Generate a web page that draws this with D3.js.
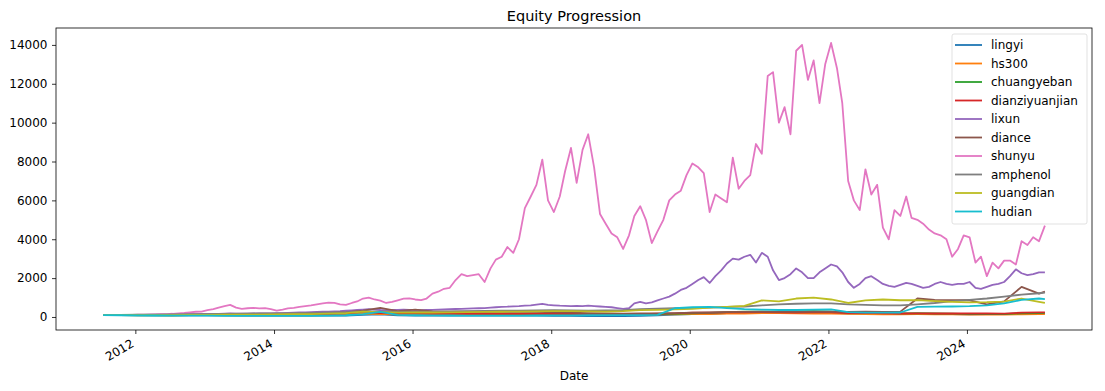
<!DOCTYPE html>
<html>
<head>
<meta charset="utf-8">
<script src="https://cdn.jsdelivr.net/npm/d3@7"></script>
<style>
  body { margin: 0; background: #fff; }
  svg { display: block; font-family: "DejaVu Sans", sans-serif; }
  .axis { font-family: "DejaVu Sans", sans-serif; }
  .axis path, .axis line { stroke: #000; stroke-width: 0.8px; }
  .axis text { font-size: 12px; fill: #000; }
</style>
</head>
<body>
<div id="area"></div>
<script>
var width = 1105,
    height = 391;

var margin = {left: 56, top: 28, right: 13, bottom: 61};

var series_names = ['lingyi', 'hs300', 'chuangyeban', 'dianziyuanjian', 'lixun',
                    'diance', 'shunyu', 'amphenol', 'guangdian', 'hudian'];

var series_colors = ['#1f77b4', '#ff7f0e', '#2ca02c', '#d62728', '#9467bd',
                     '#8c564b', '#e377c2', '#7f7f7f', '#bcbd22', '#17becf'];

// monthly samples, Jul 2011 .. Feb 2025
var shunyu = [
  100, 100, 105, 105, 110, 110,
  115, 120, 125, 130, 140, 150, 165, 190, 210, 240, 270, 280,
  350, 400, 480, 560, 620, 480, 420, 450, 470, 440, 450, 400,
  330, 380, 440, 470, 520, 560, 600, 650, 700, 740, 730, 650,
  620, 720, 800, 950, 1000, 900, 840, 720, 780, 860, 940, 960,
  900, 870, 950, 1200, 1300, 1450, 1500, 1900, 2200, 2100, 2150, 2200,
  1800, 2500, 2950, 3100, 3600, 3300, 4000, 5600, 6200, 6800, 8100, 6000,
  5400, 6200, 7500, 8700, 6900, 8600, 9400, 7700, 5300, 4800, 4300, 4100,
  3500, 4200, 5200, 5700, 5000, 3800, 4400, 5000, 6000, 6300, 6500, 7300,
  7900, 7700, 7400, 5400, 6300, 6100, 5900, 8200, 6600, 7000, 7300, 8900,
  8400, 12400, 12600, 10000, 10800, 9400, 13700, 14000, 12200, 13200, 11000, 13000,
  14100, 12800, 11000, 7000, 6000, 5500, 7600, 6300, 6800, 4600, 4000, 5500,
  5200, 6200, 5100, 5000, 4800, 4500, 4300, 4200, 4000, 3100, 3500, 4200,
  4100, 2800, 3100, 2100, 2800, 2500, 2900, 2900, 2700, 3900, 3700, 4100,
  3900, 4700
];

var lixun = [
  100, 100, 95, 100, 100, 105,
  110, 110, 115, 115, 120, 120, 125, 125, 130, 130, 135, 140,
  145, 150, 160, 170, 180, 175, 170, 175, 180, 185, 190, 190,
  195, 200, 210, 220, 230, 240, 250, 260, 270, 280, 290, 300,
  320, 340, 360, 380, 400, 380, 360, 350, 360, 370, 380, 370,
  360, 350, 360, 370, 380, 390, 400, 410, 420, 430, 440, 450,
  460, 480, 500, 520, 530, 550, 560, 580, 600, 640, 670, 620,
  600, 580, 570, 560, 570, 560, 580, 560, 540, 520, 500, 460,
  420, 450, 700, 780, 700, 750, 850, 950, 1050, 1200, 1390, 1500,
  1700, 1900, 2050, 1750, 2100, 2400, 2750, 3000, 2950, 3100, 3200, 2800,
  3300, 3100, 2400, 1900, 2000, 2200, 2500, 2300, 2000, 2000, 2300, 2500,
  2700, 2600, 2300, 1800, 1500, 1700, 2000, 2100, 1900, 1700, 1600, 1550,
  1650, 1750, 1700, 1600, 1500, 1550, 1700, 1800, 1700, 1650, 1700, 1700,
  1800, 1500, 1450, 1550, 1650, 1700, 1800, 2100, 2450, 2250, 2150, 2200,
  2300, 2300
];

// quarterly samples, Jul 2011 .. Jan 2025, plus Feb 2025
var lingyi = [
  100, 95, 90, 85, 85, 80, 80, 80,
  75, 75, 70, 70, 70, 70, 75, 110,
  130, 80, 70, 70, 75, 75, 70, 70,
  65, 65, 60, 55, 50, 45, 45, 60,
  80, 120, 150, 160, 200, 210, 230, 220,
  200, 210, 230, 180, 170, 160, 150, 160,
  150, 150, 140, 150, 160, 180, 200, 210
];

var hs300 = [
  100, 95, 95, 95, 90, 95, 95, 90,
  85, 85, 85, 85, 90, 110, 140, 180,
  150, 130, 115, 115, 120, 125, 130, 135,
  145, 150, 155, 145, 135, 120, 120, 140,
  135, 140, 145, 145, 170, 180, 200, 195,
  185, 180, 175, 160, 150, 140, 140, 145,
  135, 130, 125, 125, 120, 140, 145, 145
];

var chuangyeban = [
  100, 95, 90, 85, 90, 95, 110, 130,
  140, 150, 160, 170, 170, 190, 210, 290,
  230, 220, 210, 200, 190, 185, 175, 170,
  170, 165, 160, 150, 135, 120, 125, 140,
  145, 160, 190, 210, 250, 270, 280, 260,
  290, 300, 270, 220, 230, 210, 190, 200,
  180, 170, 150, 160, 150, 190, 200, 210
];

var dianziyuanjian = [
  100, 95, 95, 95, 95, 100, 110, 120,
  125, 130, 135, 140, 145, 160, 190, 260,
  200, 180, 170, 160, 160, 165, 165, 160,
  160, 165, 160, 155, 140, 120, 125, 150,
  170, 190, 220, 220, 240, 240, 250, 240,
  230, 240, 240, 200, 210, 190, 180, 185,
  180, 180, 180, 180, 175, 220, 240, 240
];

var diance = [
  100, 100, 100, 105, 110, 115, 120, 130,
  140, 145, 150, 160, 170, 200, 250, 330,
  470, 300, 380, 290, 280, 280, 270, 270,
  260, 260, 240, 220, 200, 180, 170, 180,
  190, 200, 220, 230, 250, 260, 270, 260,
  260, 270, 280, 260, 270, 260, 275, 950,
  880, 870, 860, 650, 800, 1550, 1200, 1300
];

var amphenol = [
  100, 110, 120, 125, 135, 140, 150, 160,
  170, 180, 190, 200, 210, 230, 250, 290,
  280, 270, 270, 280, 290, 300, 310, 320,
  330, 340, 350, 340, 330, 340, 350, 400,
  430, 450, 470, 480, 520, 540, 600, 650,
  680, 700, 700, 650, 620, 600, 600, 650,
  720, 820, 880, 950, 1050, 1150, 1220, 1250
];

var guangdian = [
  100, 95, 95, 100, 100, 105, 110, 115,
  120, 125, 130, 140, 150, 170, 200, 280,
  250, 220, 230, 230, 240, 250, 260, 270,
  280, 290, 300, 300, 290, 280, 300, 350,
  370, 390, 420, 480, 520, 570, 850, 800,
  950, 1000, 900, 720, 850, 900, 860, 870,
  820, 780, 750, 760, 790, 950, 780, 720
];

var hudian = [
  100, 90, 80, 75, 70, 65, 65, 60,
  60, 55, 55, 55, 60, 70, 90, 150,
  260, 110, 90, 80, 75, 70, 70, 70,
  70, 75, 80, 80, 90, 95, 100, 100,
  110, 450, 500, 520, 460, 400, 380, 360,
  360, 380, 390, 250, 220, 220, 230, 520,
  530, 540, 560, 600, 700, 880, 950, 920
];

var y_ticks = [0, 2000, 4000, 6000, 8000, 10000, 12000, 14000];
var x_tick_years = [2012, 2014, 2016, 2018, 2020, 2022, 2024];
var y_limits = [-670, 14870];

// sample dates
var month_dates = d3.range(shunyu.length).map(function(i) { return new Date(2011, 6 + i, 15); });
var quarter_dates = d3.range(lingyi.length - 1).map(function(i) { return new Date(2011, 6 + 3 * i, 15); });
quarter_dates.push(new Date(2025, 1, 15));

var series_values = [lingyi, hs300, chuangyeban, dianziyuanjian, lixun,
                     diance, shunyu, amphenol, guangdian, hudian];

var series = series_names.map(function(name, i) {
  var vals = series_values[i];
  var dates = vals.length == month_dates.length ? month_dates : quarter_dates;
  return {
    name: name,
    color: series_colors[i],
    points: vals.map(function(v, j) { return {date: dates[j], value: v}; })
  };
});

var svg = d3.select('#area').append('svg')
    .attr('width', width)
    .attr('height', height);

var plot_w = width - margin.left - margin.right,
    plot_h = height - margin.top - margin.bottom;

// x range padded by 5% like matplotlib
var t0 = month_dates[0].getTime(),
    t1 = month_dates[month_dates.length - 1].getTime(),
    pad = (t1 - t0) * 0.05;

var x = d3.scaleTime()
    .domain([new Date(t0 - pad), new Date(t1 + pad)])
    .range([margin.left, margin.left + plot_w]);

var y = d3.scaleLinear()
    .domain(y_limits)
    .range([margin.top + plot_h, margin.top]);

var line = d3.line()
    .x(function(d) { return x(d.date); })
    .y(function(d) { return y(d.value); });

svg.append('g').selectAll('path')
  .data(series)
  .enter().append('path')
    .attr('d', function(d) { return line(d.points); })
    .attr('fill', 'none')
    .attr('stroke', function(d) { return d.color; })
    .attr('stroke-width', 1.8)
    .attr('stroke-linejoin', 'round');

// axes
var y_axis = svg.append('g')
    .attr('class', 'axis')
    .attr('transform', 'translate(' + margin.left + ',0)')
    .call(d3.axisLeft(y).tickValues(y_ticks).tickSize(4).tickPadding(4.5).tickFormat(d3.format('d')));
y_axis.select('.domain').remove();

var x_axis = svg.append('g')
    .attr('class', 'axis')
    .attr('transform', 'translate(0,' + (margin.top + plot_h) + ')')
    .call(d3.axisBottom(x)
      .tickValues(x_tick_years.map(function(yr) { return new Date(yr, 0, 1); }))
      .tickSize(4)
      .tickFormat(d3.timeFormat('%Y')));
x_axis.select('.domain').remove();
x_axis.selectAll('text')
    .attr('text-anchor', 'end')
    .attr('y', 0)
    .attr('dy', 0)
    .attr('transform', 'translate(-1,16) rotate(-30)');

// frame
svg.append('rect')
    .attr('x', margin.left)
    .attr('y', margin.top)
    .attr('width', plot_w)
    .attr('height', plot_h)
    .attr('fill', 'none')
    .attr('stroke', '#000')
    .attr('stroke-width', 0.8);

svg.append('text')
    .attr('x', margin.left + plot_w / 2)
    .attr('y', 21)
    .attr('text-anchor', 'middle')
    .attr('font-size', '14.5px')
    .attr('fill', '#000')
    .text('Equity Progression');

svg.append('text')
    .attr('x', margin.left + plot_w / 2)
    .attr('y', 380)
    .attr('text-anchor', 'middle')
    .attr('font-size', '12px')
    .attr('fill', '#000')
    .text('Date');

// legend
var legend = svg.append('g').attr('transform', 'translate(952,34)');
legend.append('rect')
    .attr('width', 135)
    .attr('height', 190)
    .attr('rx', 2)
    .attr('fill', '#fff')
    .attr('fill-opacity', 0.8)
    .attr('stroke', '#d9d9d9')
    .attr('stroke-width', 0.8);

var rows = legend.selectAll('g.row')
  .data(series)
  .enter().append('g')
    .attr('class', 'row')
    .attr('transform', function(d, i) { return 'translate(0,' + (11 + i * 18.5) + ')'; });

rows.append('line')
    .attr('x1', 3).attr('x2', 30)
    .attr('stroke', function(d) { return d.color; })
    .attr('stroke-width', 1.8);

rows.append('text')
    .attr('x', 39)
    .attr('dy', '0.35em')
    .attr('font-size', '12px')
    .attr('fill', '#000')
    .text(function(d) { return d.name; });
</script>
</body>
</html>
